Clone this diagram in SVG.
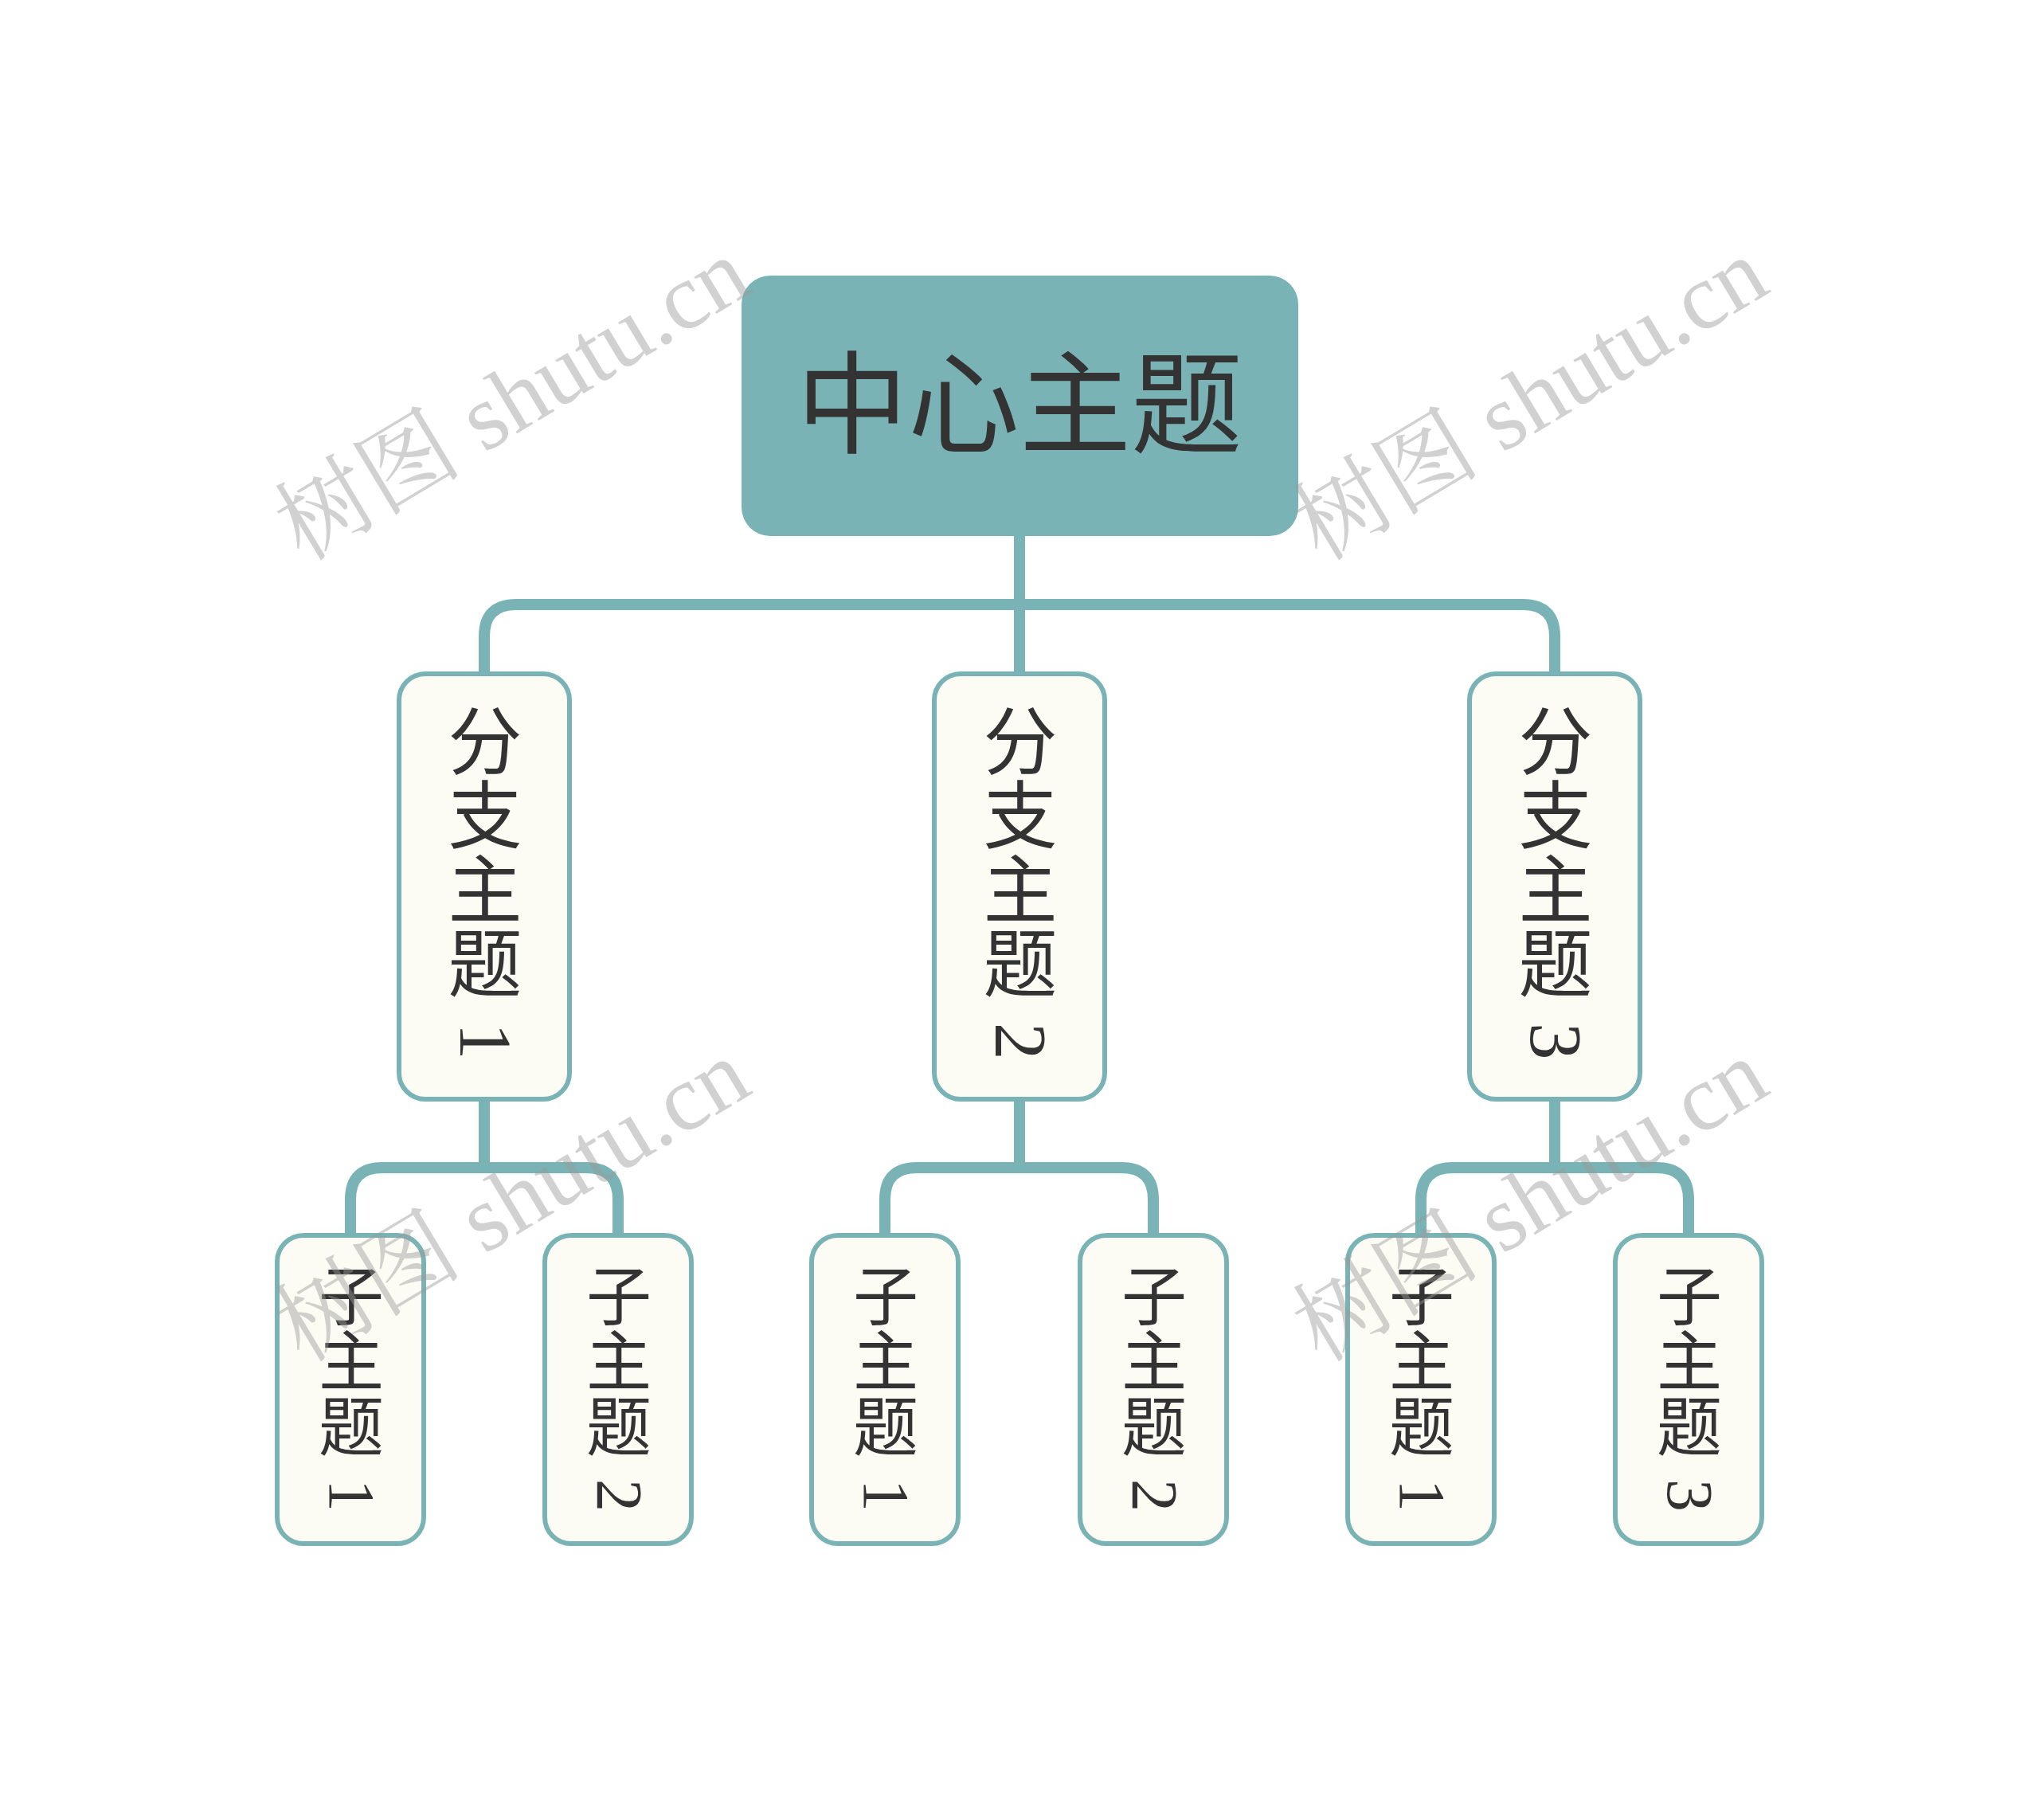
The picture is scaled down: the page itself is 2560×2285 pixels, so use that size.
<svg xmlns="http://www.w3.org/2000/svg" width="2560" height="2285" viewBox="0 0 2560 2285">
<style>
.conn{fill:none;stroke:#7ab3b5;stroke-width:14;stroke-linecap:butt}
.node{fill:#fdfcf4;stroke:#7ab3b5;stroke-width:6}
.root{fill:#7ab3b5}
.t{font-family:"Noto Sans CJK SC","Noto Sans",sans-serif;fill:#333333}
.v{writing-mode:vertical-rl;text-anchor:start}
.d{font-family:"Liberation Serif","Noto Sans CJK SC",serif}
.wm{font-family:"Liberation Serif","Noto Serif CJK SC","Noto Sans CJK SC",serif;font-size:118px;fill:#9a9a9a;fill-opacity:0.45}
</style>
<rect width="2560" height="2285" fill="#ffffff"/>
<g id="connectors">
<path class="conn" d="M1280 673 V846"/>
<path class="conn" d="M608 846 V799 Q608 759 648 759 H1912 Q1952 759 1952 799 V846"/>
<path class="conn" d="M608 1380 V1466"/>
<path class="conn" d="M440 1551 V1506 Q440 1466 480 1466 H736 Q776 1466 776 1506 V1551"/>
<path class="conn" d="M1280 1380 V1466"/>
<path class="conn" d="M1111 1551 V1506 Q1111 1466 1151 1466 H1408 Q1448 1466 1448 1506 V1551"/>
<path class="conn" d="M1952 1380 V1466"/>
<path class="conn" d="M1784 1551 V1506 Q1784 1466 1824 1466 H2080 Q2120 1466 2120 1506 V1551"/>
</g>
<g id="root">
<rect class="root" x="931" y="346" width="699" height="327" rx="36"/>
<text class="t" x="1280" y="558" font-size="140" text-anchor="middle">中心主题</text>
</g>
<g id="branch1">
<rect class="node" x="501" y="846" width="214" height="534" rx="33"/>
<text class="t v" x="609" y="883" font-size="93">分支主题 <tspan class="d" dy="8">1</tspan></text>
</g>
<g id="branch2">
<rect class="node" x="1173" y="846" width="214" height="534" rx="33"/>
<text class="t v" x="1281" y="883" font-size="93">分支主题 <tspan class="d" dy="8">2</tspan></text>
</g>
<g id="branch3">
<rect class="node" x="1845" y="846" width="214" height="534" rx="33"/>
<text class="t v" x="1953" y="883" font-size="93">分支主题 <tspan class="d" dy="8">3</tspan></text>
</g>
<g id="sub1-1">
<rect class="node" x="348" y="1551" width="184" height="387" rx="33"/>
<text class="t v" x="441" y="1585" font-size="82">子主题 <tspan class="d" dy="8">1</tspan></text>
</g>
<g id="sub1-2">
<rect class="node" x="684" y="1551" width="184" height="387" rx="33"/>
<text class="t v" x="777" y="1585" font-size="82">子主题 <tspan class="d" dy="8">2</tspan></text>
</g>
<g id="sub2-1">
<rect class="node" x="1019" y="1551" width="184" height="387" rx="33"/>
<text class="t v" x="1112" y="1585" font-size="82">子主题 <tspan class="d" dy="8">1</tspan></text>
</g>
<g id="sub2-2">
<rect class="node" x="1356" y="1551" width="184" height="387" rx="33"/>
<text class="t v" x="1449" y="1585" font-size="82">子主题 <tspan class="d" dy="8">2</tspan></text>
</g>
<g id="sub3-1">
<rect class="node" x="1692" y="1551" width="184" height="387" rx="33"/>
<text class="t v" x="1785" y="1585" font-size="82">子主题 <tspan class="d" dy="8">1</tspan></text>
</g>
<g id="sub3-2">
<rect class="node" x="2028" y="1551" width="184" height="387" rx="33"/>
<text class="t v" x="2121" y="1585" font-size="82">子主题 <tspan class="d" dy="8">3</tspan></text>
</g>
<g id="watermarks">
<text class="wm" transform="translate(380 706) rotate(-31)">树图 shutu.cn</text>
<text class="wm" transform="translate(1658 706) rotate(-31)">树图 shutu.cn</text>
<text class="wm" transform="translate(380 1712) rotate(-31)">树图 shutu.cn</text>
<text class="wm" transform="translate(1658 1712) rotate(-31)">树图 shutu.cn</text>
</g>
</svg>
